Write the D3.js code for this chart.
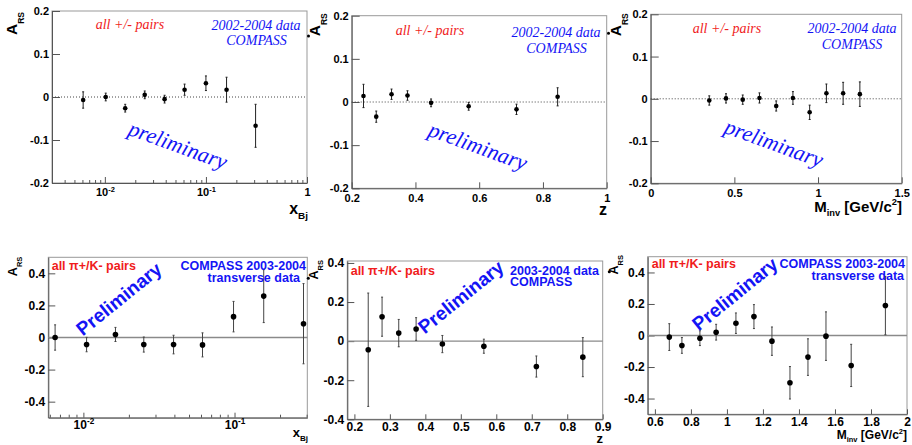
<!DOCTYPE html>
<html>
<head>
<meta charset="utf-8">
<script src="https://cdn.jsdelivr.net/npm/d3@7"></script>
<style>
body { margin: 0; background: #fff; }
</style>
</head>
<body>
<script>
// ---- data ----
// top row, all +/- pairs (2002-2004)
const xbjAllX = [0.0061, 0.0102, 0.0159, 0.0248, 0.039, 0.0615, 0.1, 0.16, 0.31];
const xbjAllA = [-0.007, 0.000, -0.026, 0.005, -0.005, 0.017, 0.032, 0.017, -0.067];
const xbjAllE = [0.019, 0.009, 0.009, 0.009, 0.009, 0.013, 0.017, 0.029, 0.050];

const zAllX = [0.237, 0.277, 0.325, 0.375, 0.449, 0.567, 0.717, 0.846];
const zAllA = [0.014, -0.034, 0.018, 0.015, -0.002, -0.010, -0.017, 0.012];
const zAllE = [0.027, 0.013, 0.012, 0.011, 0.009, 0.009, 0.012, 0.021];

const minvAllX = [0.35, 0.45, 0.55, 0.65, 0.75, 0.85, 0.95, 1.05, 1.15, 1.25];
const minvAllA = [-0.004, 0.001, -0.002, 0.002, -0.017, 0.002, -0.032, 0.013, 0.013, 0.011];
const minvAllE = [0.011, 0.011, 0.011, 0.012, 0.012, 0.015, 0.017, 0.022, 0.026, 0.029];

// bottom row, pi+/K- pairs (2003-2004 transverse)
const xbjPiKX = [0.0065, 0.0105, 0.0163, 0.0251, 0.0395, 0.0614, 0.0985, 0.156, 0.286];
const xbjPiKA = [0.000, -0.044, 0.019, -0.044, -0.044, -0.046, 0.130, 0.258, 0.086];
const xbjPiKE = [0.079, 0.045, 0.044, 0.047, 0.058, 0.075, 0.095, 0.165, 0.250];

const zPiKX = [0.239, 0.278, 0.325, 0.374, 0.448, 0.565, 0.713, 0.844];
const zPiKA = [-0.044, 0.125, 0.041, 0.062, -0.015, -0.026, -0.130, -0.082];
const zPiKE = [0.290, 0.100, 0.070, 0.058, 0.044, 0.036, 0.054, 0.100];

const minvPiKX = [0.68, 0.75, 0.85, 0.94, 1.05, 1.15, 1.25, 1.35, 1.45, 1.55, 1.69, 1.88];
const minvPiKA = [-0.010, -0.063, -0.017, 0.021, 0.078, 0.120, -0.036, -0.300, -0.137, -0.004, -0.190, 0.190];
const minvPiKE = [0.085, 0.050, 0.047, 0.050, 0.065, 0.076, 0.090, 0.103, 0.116, 0.154, 0.134, 0.185];

// ticks
const yTicksTop = [-0.2, -0.1, 0, 0.1, 0.2];
const yTicksBottom = [-0.4, -0.2, 0, 0.2, 0.4];
const xbjTopTicks = [0.01, 0.1, 1];
const xbjBottomTicks = [0.01, 0.1];
const zTopTicks = [0.2, 0.4, 0.6, 0.8, 1];
const zBottomTicks = [0.2, 0.3, 0.4, 0.5, 0.6, 0.7, 0.8, 0.9];
const minvTopTicks = [0, 0.5, 1, 1.5];
const minvBottomTicks = [0.6, 0.8, 1, 1.2, 1.4, 1.6, 1.8, 2];

// texts
const topRed = "all +/- pairs";
const topBlue = ["2002-2004 data", "COMPASS"];
const bottomRed = "all \u03c0+/K- pairs";
const bottomBlueA = ["COMPASS 2003-2004", "transverse data"];
const bottomBlueB = ["2003-2004 data", "COMPASS"];
const prelimTop = "preliminary";
const prelimBottom = "Preliminary";

const red = "#f01c1c", blue = "#1414f5";
const sans = '"Liberation Sans", Arial, sans-serif';
const serif = '"Liberation Serif", "Times New Roman", serif';

const svg = d3.select('body').append('svg')
  .attr('width', 912)
  .attr('height', 445)
  .attr('font-family', sans);

// row styles
const topRow = {serif: true, tick: 11, aSize: 15.5, aSub: 8.5, aDy: 7, yTick: 8, xTick: 6, minor: 3, dot: 2.3,
  zero: {stroke: '#444', dash: '1,2', w: 1}, err: '#222', pad: 5.5};
const botRow = {serif: false, tick: 12, aSize: 12.5, aSub: 7.5, aDy: 5, yTick: 7, xTick: 5, minor: 3, dot: 2.8,
  zero: {stroke: '#8a8a8a', dash: null, w: 1.3}, err: '#444', pad: 3};

const panels = [
  {st: topRow, xs: xbjAllX, as: xbjAllA, es: xbjAllE, log: true, xDomain: [0.003, 1], yDomain: [-0.2, 0.2],
   left: 52, right: 307, top: 11, bottom: 183, yTicks: yTicksTop, xTicks: xbjTopTicks,
   aX: 16.7, aY: 12, title: 'xbj', tX: 308, tY: 214, tSize: 16,
   texts: [
     {t: topRed, x: 130, y: 29, c: red, a: 'middle'},
     {t: topBlue[0], x: 256, y: 29.5, c: blue, a: 'middle'},
     {t: topBlue[1], x: 256.5, y: 45, c: blue, a: 'middle'}],
   prelim: {x: 178, y: 145, r: 20}, stub: {dx: 1.5, dy: 25}},
  {st: topRow, xs: zAllX, as: zAllA, es: zAllE, log: false, xDomain: [0.2, 1], yDomain: [-0.2, 0.2],
   left: 351.7, right: 606.7, top: 15.7, bottom: 188.3, yTicks: yTicksTop, xTicks: zTopTicks,
   aX: 320, aY: 13.3, title: 'z', tX: 607, tY: 215, tSize: 16,
   texts: [
     {t: topRed, x: 430, y: 35, c: red, a: 'middle'},
     {t: topBlue[0], x: 556, y: 36.5, c: blue, a: 'middle'},
     {t: topBlue[1], x: 556.5, y: 52.5, c: blue, a: 'middle'}],
   prelim: {x: 478, y: 146, r: 20}, stub: {dx: 1.8, dy: 17.6}},
  {st: topRow, xs: minvAllX, as: minvAllA, es: minvAllE, log: false, xDomain: [0, 1.5], yDomain: [-0.2, 0.2],
   left: 650.7, right: 901.7, top: 14.3, bottom: 183.3, yTicks: yTicksTop, xTicks: minvTopTicks,
   aX: 621, aY: 13.3, title: 'minv', tX: 902, tY: 212, tSize: 15,
   texts: [
     {t: topRed, x: 727, y: 33, c: red, a: 'middle'},
     {t: topBlue[0], x: 852, y: 33, c: blue, a: 'middle'},
     {t: topBlue[1], x: 852, y: 49, c: blue, a: 'middle'}],
   prelim: {x: 774, y: 143, r: 20}},
  {st: botRow, xs: xbjPiKX, as: xbjPiKA, es: xbjPiKE, log: true, xDomain: [0.00586, 0.303], yDomain: [-0.5, 0.5],
   left: 48.3, right: 307.3, top: 257.3, bottom: 417.7, yTicks: yTicksBottom, xTicks: xbjBottomTicks,
   aX: 16.7, aY: 256.7, title: 'xbj', tX: 308, tY: 437, tSize: 13,
   texts: [
     {t: bottomRed, x: 51.7, y: 270, c: red, a: 'start'},
     {t: bottomBlueA[0], x: 306, y: 270, c: blue, a: 'end'},
     {t: bottomBlueA[1], x: 300, y: 282, c: blue, a: 'end'}],
   prelim: {x: 119, y: 299, r: -39}, stub: {dx: 1, dy: 21}},
  {st: botRow, xs: zPiKX, as: zPiKA, es: zPiKE, log: false, xDomain: [0.18, 0.9], yDomain: [-0.4, 0.41],
   left: 347.3, right: 602.7, top: 261, bottom: 419.3, yTicks: yTicksBottom, xTicks: zBottomTicks,
   aX: 318, aY: 260, title: 'z', tX: 603, tY: 443, tSize: 13,
   texts: [
     {t: bottomRed, x: 350.7, y: 275, c: red, a: 'start'},
     {t: bottomBlueB[0], x: 510, y: 275, c: blue, a: 'start'},
     {t: bottomBlueB[1], x: 510, y: 286, c: blue, a: 'start'}],
   prelim: {x: 461, y: 297, r: -39}, stub: {dx: 6.6, dy: 10.7}},
  {st: botRow, xs: minvPiKX, as: minvPiKA, es: minvPiKE, log: false, xDomain: [0.56, 2.0], yDomain: [-0.5, 0.5],
   left: 647.7, right: 907, top: 256.7, bottom: 414.3, yTicks: yTicksBottom, xTicks: minvBottomTicks,
   aX: 618, aY: 255, title: 'minv', tX: 907, tY: 439, tSize: 12,
   texts: [
     {t: bottomRed, x: 651.7, y: 268, c: red, a: 'start'},
     {t: bottomBlueA[0], x: 905, y: 268, c: blue, a: 'end'},
     {t: bottomBlueA[1], x: 904, y: 280, c: blue, a: 'end'}],
   prelim: {x: 735, y: 294, r: -39}}
];

panels.forEach(drawPanel);

function fmtA(d) {
  return d === 0 ? '0' : d.toFixed(1);
}

function fmtX(d) {
  return (Math.round(d * 10) / 10).toString();
}

function styleAxis(ax, st) {
  ax.attr('font-family', sans);
  ax.select('.domain').attr('stroke', '#555');
  ax.selectAll('.tick line').attr('stroke', '#555');
  ax.selectAll('.tick text')
    .attr('fill', '#000')
    .attr('font-weight', 'bold')
    .attr('font-size', st.tick);
}

function drawPanel(p) {
  const st = p.st;
  const g = svg.append('g');

  const x = (p.log ? d3.scaleLog() : d3.scaleLinear()).domain(p.xDomain).range([p.left, p.right]);
  const y = d3.scaleLinear().domain(p.yDomain).range([p.bottom, p.top]);

  // frame
  g.append('rect')
    .attr('x', p.left).attr('y', p.top)
    .attr('width', p.right - p.left).attr('height', p.bottom - p.top)
    .attr('fill', 'none').attr('stroke', '#999').attr('stroke-width', 1);

  // y axis
  const gy = g.append('g').attr('transform', `translate(${p.left},0)`)
    .call(d3.axisLeft(y).tickValues(p.yTicks).tickSize(-st.yTick).tickSizeOuter(0)
      .tickPadding(3).tickFormat(fmtA));
  styleAxis(gy, st);

  // x axis
  const xAxis = d3.axisBottom(x).tickValues(p.xTicks).tickSize(-st.xTick).tickSizeOuter(0)
    .tickPadding(st.pad);
  xAxis.tickFormat(p.log ? () => '' : fmtX);
  const gx = g.append('g').attr('transform', `translate(0,${p.bottom})`).call(xAxis);
  styleAxis(gx, st);

  if (p.log) {
    // 10^n labels
    gx.selectAll('.tick text').each(function(d) {
      const t = d3.select(this);
      const ex = Math.round(Math.log10(d));
      if (ex === 0) { t.text('1'); return; }
      t.append('tspan').text('10');
      t.append('tspan').attr('dy', -st.tick * 0.42).attr('font-size', st.tick * 0.68).text(ex);
    });
    // minor ticks
    const minors = x.ticks().filter(v => Math.abs(Math.log10(v) - Math.round(Math.log10(v))) > 1e-6);
    const gm = g.append('g').attr('transform', `translate(0,${p.bottom})`)
      .call(d3.axisBottom(x).tickValues(minors).tickSize(-st.minor).tickSizeOuter(0).tickFormat(''));
    gm.select('.domain').remove();
    gm.selectAll('.tick line').attr('stroke', '#555');
  }

  // zero line
  g.append('line')
    .attr('x1', p.left).attr('x2', p.right)
    .attr('y1', y(0)).attr('y2', y(0))
    .attr('stroke', st.zero.stroke).attr('stroke-width', st.zero.w)
    .attr('stroke-dasharray', st.zero.dash);

  const pts = p.xs.map((v, i) => ({x: v, a: p.as[i], e: p.es[i]}));

  // error bars
  g.selectAll('line.err').data(pts).join('line')
    .attr('class', 'err')
    .attr('x1', d => x(d.x)).attr('x2', d => x(d.x))
    .attr('y1', d => y(Math.min(d.a + d.e, p.yDomain[1])))
    .attr('y2', d => y(Math.max(d.a - d.e, p.yDomain[0])))
    .attr('stroke', st.err).attr('stroke-width', 1);
  const caps = pts.flatMap(d => [d.a + d.e, d.a - d.e].map(v => ({x: d.x, v})))
    .filter(d => d.v <= p.yDomain[1] && d.v >= p.yDomain[0]);
  g.selectAll('line.cap').data(caps).join('line')
    .attr('class', 'cap')
    .attr('x1', d => x(d.x) - 1).attr('x2', d => x(d.x) + 1)
    .attr('y1', d => y(d.v)).attr('y2', d => y(d.v))
    .attr('stroke', st.err).attr('stroke-width', 1);

  // points
  g.selectAll('circle.pt').data(pts).join('circle')
    .attr('class', 'pt')
    .attr('cx', d => x(d.x)).attr('cy', d => y(d.a))
    .attr('r', st.dot).attr('fill', '#000');

  // clipped legend marker at the right edge
  if (p.stub) {
    g.append('circle')
      .attr('cx', p.right + p.stub.dx).attr('cy', p.top + p.stub.dy)
      .attr('r', 1.5).attr('fill', '#000');
  }

  // A_RS title
  const at = g.append('text')
    .attr('transform', `translate(${p.aX},${p.aY}) rotate(-90)`)
    .attr('text-anchor', 'end').attr('font-weight', 'bold').attr('fill', '#000');
  at.append('tspan').attr('font-size', st.aSize).text('A');
  at.append('tspan').attr('font-size', st.aSub).attr('dy', st.aDy).text('RS');

  // x title
  const xt = g.append('text')
    .attr('x', p.tX).attr('y', p.tY)
    .attr('text-anchor', 'end').attr('font-weight', 'bold').attr('fill', '#000')
    .attr('font-size', p.tSize);
  const sub = p.tSize * 0.62;
  if (p.title === 'xbj') {
    xt.append('tspan').text('x');
    xt.append('tspan').attr('font-size', sub).attr('dy', p.tSize * 0.3).text('Bj');
  } else if (p.title === 'z') {
    xt.text('z');
  } else {
    xt.append('tspan').text('M');
    xt.append('tspan').attr('font-size', sub).attr('dy', p.tSize * 0.28).text('inv');
    xt.append('tspan').attr('dy', -p.tSize * 0.28).text(' [GeV/c');
    xt.append('tspan').attr('font-size', sub).attr('dy', -p.tSize * 0.45).text('2');
    xt.append('tspan').attr('dy', p.tSize * 0.45).text(']');
  }

  // labels
  p.texts.forEach(t => {
    const el = g.append('text')
      .attr('x', t.x).attr('y', t.y)
      .attr('text-anchor', t.a).attr('fill', t.c)
      .text(t.t);
    if (st.serif) {
      el.attr('font-family', serif).attr('font-style', 'italic').attr('font-size', 14);
    } else {
      el.attr('font-weight', 'bold').attr('font-size', 12.5);
    }
  });

  // preliminary stamp
  const pr = g.append('text')
    .attr('transform', `translate(${p.prelim.x},${p.prelim.y}) rotate(${p.prelim.r})`)
    .attr('text-anchor', 'middle').attr('dominant-baseline', 'central')
    .attr('fill', blue);
  if (st.serif) {
    pr.attr('font-family', serif).attr('font-style', 'italic').attr('font-size', 22).text(prelimTop);
  } else {
    pr.attr('font-weight', 'bold').attr('font-size', 19).text(prelimBottom);
  }
}
</script>
</body>
</html>
